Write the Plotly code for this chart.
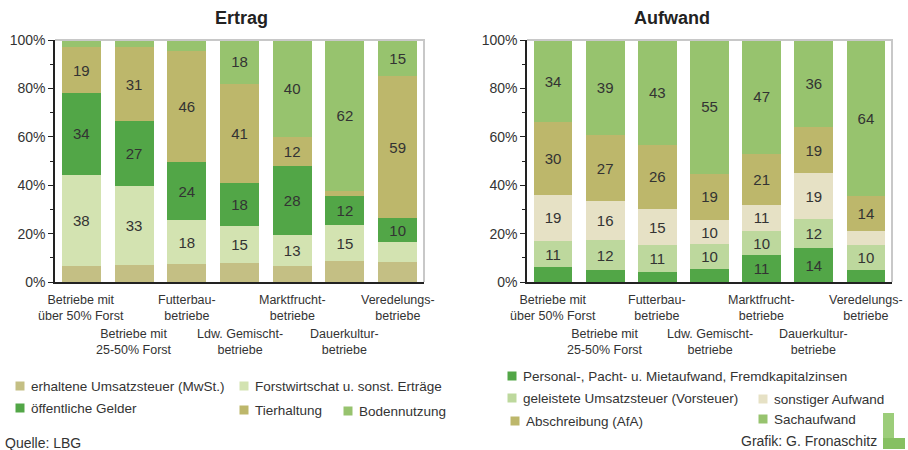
import plotly.graph_objects as go

W, H = 908, 450
FONT = "Arial, Liberation Sans, sans-serif"

categories = [
    "Betriebe mit<br>über 50% Forst",
    "Betriebe mit<br>25-50% Forst",
    "Futterbau-<br>betriebe",
    "Ldw. Gemischt-<br>betriebe",
    "Marktfrucht-<br>betriebe",
    "Dauerkultur-<br>betriebe",
    "Veredelungs-<br>betriebe",
]

# Ertrag (bottom to top)
ertrag_names = [
    "erhaltene Umsatzsteuer (MwSt.)",
    "Forstwirtschat u. sonst. Erträge",
    "öffentliche Gelder",
    "Tierhaltung",
    "Bodennutzung",
]
mwst = [6.5, 7, 7.5, 8, 6.5, 8.5, 8.5]
forst = [38, 33, 18, 15, 13, 15, 8]
oeffentlich = [34, 27, 24, 18, 28, 12, 10]
tierhaltung = [19, 31, 46, 41, 12, 2, 59]
bodennutzung = [3, 3, 4.5, 18, 40, 62, 15]

# Aufwand (bottom to top)
aufwand_names = [
    "Personal-, Pacht- u. Mietaufwand, Fremdkapitalzinsen",
    "geleistete Umsatzsteuer (Vorsteuer)",
    "sonstiger Aufwand",
    "Abschreibung (AfA)",
    "Sachaufwand",
]
personal = [6, 5, 4, 5.5, 11, 14, 5]
vorsteuer = [11, 12, 11, 10, 10, 12, 10]
sonstiger = [19, 16, 15, 10, 11, 19, 6]
afa = [30, 27, 26, 19, 21, 19, 14]
sachaufwand = [34, 39, 43, 55, 47, 36, 64]

percent_ticks = [0, 20, 40, 60, 80, 100]
percent_labels = ["0%", "20%", "40%", "60%", "80%", "100%"]

ertrag_colors = ["#c4bf84", "#d3e3b1", "#52a647", "#bdb76b", "#97c36e"]
aufwand_colors = ["#52a647", "#bdd89d", "#e6e1c5", "#bdb76b", "#97c36e"]


def px(x, y):
    return x / W, 1 - y / H


fig = go.Figure()

for name, vals, col in zip(ertrag_names, [mwst, forst, oeffentlich, tierhaltung, bodennutzung], ertrag_colors):
    fig.add_trace(go.Bar(
        x=categories, y=vals, name=name, marker=dict(color=col, line=dict(width=0)),
        text=[str(int(v)) if v >= 10 else "" for v in vals], texttemplate="%{text}",
        textposition="inside", insidetextanchor="middle", textangle=0, constraintext="none",
        textfont=dict(size=15, color="#333333", family=FONT),
        xaxis="x", yaxis="y", showlegend=False,
    ))

for name, vals, col in zip(aufwand_names, [personal, vorsteuer, sonstiger, afa, sachaufwand], aufwand_colors):
    fig.add_trace(go.Bar(
        x=categories, y=vals, name=name, marker=dict(color=col, line=dict(width=0)),
        text=[str(int(v)) if v >= 10 else "" for v in vals], texttemplate="%{text}",
        textposition="inside", insidetextanchor="middle", textangle=0, constraintext="none",
        textfont=dict(size=15, color="#333333", family=FONT),
        xaxis="x2", yaxis="y2", showlegend=False,
    ))

y_dom = [1 - 282 / H, 1 - 40 / H]
yax = dict(
    range=[0, 100], tickmode="array", tickvals=percent_ticks, ticktext=percent_labels,
    ticks="outside", ticklen=5, automargin=False,
    tickcolor="#222", tickwidth=1, showline=True, linecolor="#222", linewidth=1.5,
    showgrid=False, zeroline=False, domain=y_dom,
    tickfont=dict(size=14, color="#333333", family=FONT),
    minor=dict(tickvals=[10, 30, 50, 70, 90], ticks="outside", ticklen=3, tickcolor="#222"),
)
xax = dict(showticklabels=False, ticks="", showline=True, linecolor="#222", linewidth=1.5,
           showgrid=False, zeroline=False, type="category", automargin=False,
           range=[-0.5, len(categories) - 0.5])

fig.update_layout(
    width=W, height=H, margin=dict(l=0, r=0, t=0, b=0, autoexpand=False),
    paper_bgcolor="white", plot_bgcolor="white",
    barmode="stack", barnorm="percent", bargap=0.26,
    font=dict(family=FONT, color="#333333"),
    xaxis=dict(xax, domain=[55 / W, 424 / W], anchor="y"),
    yaxis=dict(yax, anchor="x"),
    xaxis2=dict(xax, domain=[527 / W, 892 / W], anchor="y2"),
    yaxis2=dict(yax, anchor="x2"),
)

annotations = []
shapes = []

# titles
for text, cx in [("Ertrag", 213), ("Aufwand", 712)]:
    x, y = px(cx, 18)
    annotations.append(dict(text="<b>%s</b>" % text, x=x, y=y, xref="paper", yref="paper",
                            yanchor="middle", showarrow=False,
                            font=dict(size=18, color="#222222", family=FONT)))

# staggered category labels
for xr in ["x", "x2"]:
    for i, cat in enumerate(categories):
        ytop = 291 if i % 2 == 0 else 325
        annotations.append(dict(text=cat, x=cat, xref=xr, y=1 - ytop / H, yref="paper",
                                yanchor="top", showarrow=False,
                                font=dict(size=12.5, color="#333333", family=FONT)))

# plot frame (top and right in gray)
for x0, x1 in [(55, 424), (527, 892)]:
    shapes.append(dict(type="path", xref="paper", yref="paper",
                       path="M %f %f L %f %f L %f %f" % (x0 / W, 1 - 40 / H, x1 / W, 1 - 40 / H,
                                                          x1 / W, 1 - 282 / H),
                       line=dict(color="#c8c8c8", width=2)))

# custom legends
ertrag_pos = [(20, 386), (244, 386), (20, 408), (244, 410), (348, 411)]
aufwand_pos = [(512, 376), (512, 398), (763, 399), (515, 421), (763, 419)]
for names, cols, pos in [(ertrag_names, ertrag_colors, ertrag_pos), (aufwand_names, aufwand_colors, aufwand_pos)]:
    for name, col, (mx, my) in zip(names, cols, pos):
        shapes.append(dict(type="rect", xref="paper", yref="paper",
                           x0=(mx - 4.5) / W, x1=(mx + 4.5) / W, y0=1 - (my + 4.5) / H, y1=1 - (my - 4.5) / H,
                           fillcolor=col, line=dict(width=0)))
        annotations.append(dict(text=name, x=(mx + 9) / W, y=1 - my / H, xref="paper", yref="paper",
                                xanchor="left", yanchor="middle", showarrow=False,
                                font=dict(size=13.5, color="#333333", family=FONT)))

x, y = px(3, 443)
annotations.append(dict(text="Quelle: LBG", x=x, y=y, xref="paper", yref="paper", xanchor="left",
                        yanchor="middle", showarrow=False, font=dict(size=14, color="#333333", family=FONT)))
x, y = px(879, 441)
annotations.append(dict(text="Grafik: G. Fronaschitz", x=x, y=y, xref="paper", yref="paper", xanchor="right",
                        yanchor="middle", showarrow=False, font=dict(size=14, color="#333333", family=FONT)))

# small logo
shapes.append(dict(type="rect", xref="paper", yref="paper", x0=883 / W, x1=894 / W,
                   y0=1 - 449 / H, y1=1 - 413 / H, fillcolor="#9ccd7a", line=dict(width=0)))
shapes.append(dict(type="rect", xref="paper", yref="paper", x0=883 / W, x1=905 / W,
                   y0=1 - 449 / H, y1=1 - 438 / H, fillcolor="#86c062", line=dict(width=0)))

fig.update_layout(annotations=annotations, shapes=shapes)

# drop the default page margin so the figure starts at the window corner
fig.write_html("out.html", config={"displayModeBar": False},
               post_script="document.body.style.margin='0';document.body.style.overflow='hidden';")
